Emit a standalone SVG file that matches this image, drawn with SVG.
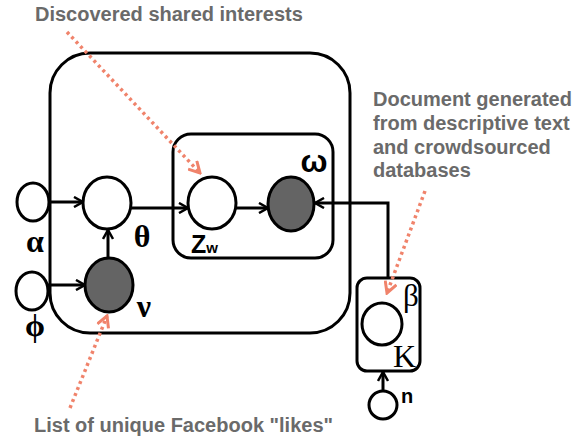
<svg xmlns="http://www.w3.org/2000/svg" width="587" height="439" viewBox="0 0 587 439">
  <style>
    .plate { fill: none; stroke: #000; stroke-width: 3; }
    .node { fill: #fff; stroke: #000; stroke-width: 3; }
    .obs { fill: #646464; stroke: #000; stroke-width: 3; }
    .edge { fill: none; stroke: #000; stroke-width: 3; marker-end: url(#arrow); }
    .note { fill: none; stroke: #f0836b; stroke-width: 3.5; stroke-dasharray: 3 3.5; marker-end: url(#noteArrow); }
    .ann { font-family: "Liberation Sans", Arial, sans-serif; font-weight: bold; font-size: 20px; fill: #6a6a6a; }
    .sym { font-family: "Liberation Serif", "Times New Roman", serif; font-weight: bold; font-size: 32px; fill: #000; text-anchor: middle; }
    .ser { font-family: "Liberation Serif", "Times New Roman", serif; fill: #000; }
    .sans { font-family: "Liberation Sans", Arial, sans-serif; font-weight: bold; fill: #000; }
  </style>
  <defs>
    <marker id="arrow" viewBox="0 0 12 12" refX="10" refY="6" markerWidth="12" markerHeight="12" markerUnits="userSpaceOnUse" orient="auto">
      <path d="M1,1 L10,6 L1,11" fill="none" stroke="#000" stroke-width="2.5"/>
    </marker>
    <marker id="noteArrow" viewBox="0 0 14 14" refX="12" refY="7" markerWidth="14" markerHeight="14" markerUnits="userSpaceOnUse" orient="auto">
      <path d="M1,1 L12,7 L1,13" fill="none" stroke="#f0836b" stroke-width="3"/>
    </marker>
  </defs>

  <!-- plates -->
  <g id="plates">
    <rect id="plate-user" class="plate" x="50" y="53" width="300" height="280" rx="40"/>
    <rect id="plate-words" class="plate" x="173" y="134" width="160" height="124" rx="18"/>
    <rect id="plate-topics" class="plate" x="357" y="278" width="63" height="93" rx="10"/>
  </g>

  <!-- connectors -->
  <g id="connectors">
    <line class="edge" x1="49" y1="202" x2="83" y2="202"/>
    <line class="edge" x1="48" y1="285" x2="85" y2="285"/>
    <line class="edge" x1="108" y1="258" x2="108" y2="230"/>
    <line class="edge" x1="131" y1="208" x2="188" y2="208"/>
    <line class="edge" x1="236" y1="208" x2="268" y2="208"/>
    <polyline class="edge" points="388,278 388,203 315,203"/>
    <line class="edge" x1="383" y1="391" x2="383" y2="372"/>
  </g>

  <!-- nodes -->
  <g id="node-alpha">
    <ellipse class="node" cx="33" cy="202" rx="16" ry="19"/>
    <text class="sym" x="35" y="252" font-size="37">α</text>
  </g>
  <g id="node-phi">
    <ellipse class="node" cx="32" cy="291" rx="16" ry="19"/>
    <text class="sym" x="35" y="336">ϕ</text>
  </g>
  <g id="node-theta">
    <ellipse class="node" cx="107" cy="203" rx="24" ry="26"/>
    <text class="sym" x="142" y="247">θ</text>
  </g>
  <g id="node-nu">
    <ellipse class="obs" cx="109" cy="285" rx="24" ry="27"/>
    <text class="sym" x="144" y="317" font-size="34">ν</text>
  </g>
  <g id="node-z">
    <ellipse class="node" cx="212" cy="203" rx="24" ry="26"/>
    <text class="sans" x="191" y="253" font-size="25">Z<tspan font-size="15">w</tspan></text>
  </g>
  <g id="node-omega">
    <ellipse class="obs" cx="291" cy="204" rx="23" ry="27"/>
    <text class="sans" x="314" y="172" font-size="32" text-anchor="middle">ω</text>
  </g>
  <g id="node-beta">
    <ellipse class="node" cx="382" cy="324" rx="20" ry="21"/>
    <text class="ser" x="411" y="306" font-size="31" text-anchor="middle">β</text>
    <text class="ser" x="393" y="367" font-size="32">K</text>
  </g>
  <g id="node-n">
    <ellipse class="node" cx="383" cy="405" rx="14" ry="14"/>
    <text class="sans" x="401" y="403" font-size="20">n</text>
  </g>

  <!-- annotations -->
  <g id="annotations">
    <text class="ann" x="35" y="21">Discovered shared interests</text>
    <text class="ann" x="373" y="106">Document generated</text>
    <text class="ann" x="373" y="130">from descriptive text</text>
    <text class="ann" x="373" y="154">and crowdsourced</text>
    <text class="ann" x="373" y="177">databases</text>
    <text class="ann" x="34" y="432">List of unique Facebook "likes"</text>
    <line class="note" x1="67" y1="32" x2="200" y2="173"/>
    <line class="note" x1="425" y1="191" x2="387" y2="293"/>
    <line class="note" x1="70" y1="408" x2="107" y2="316"/>
  </g>
</svg>
